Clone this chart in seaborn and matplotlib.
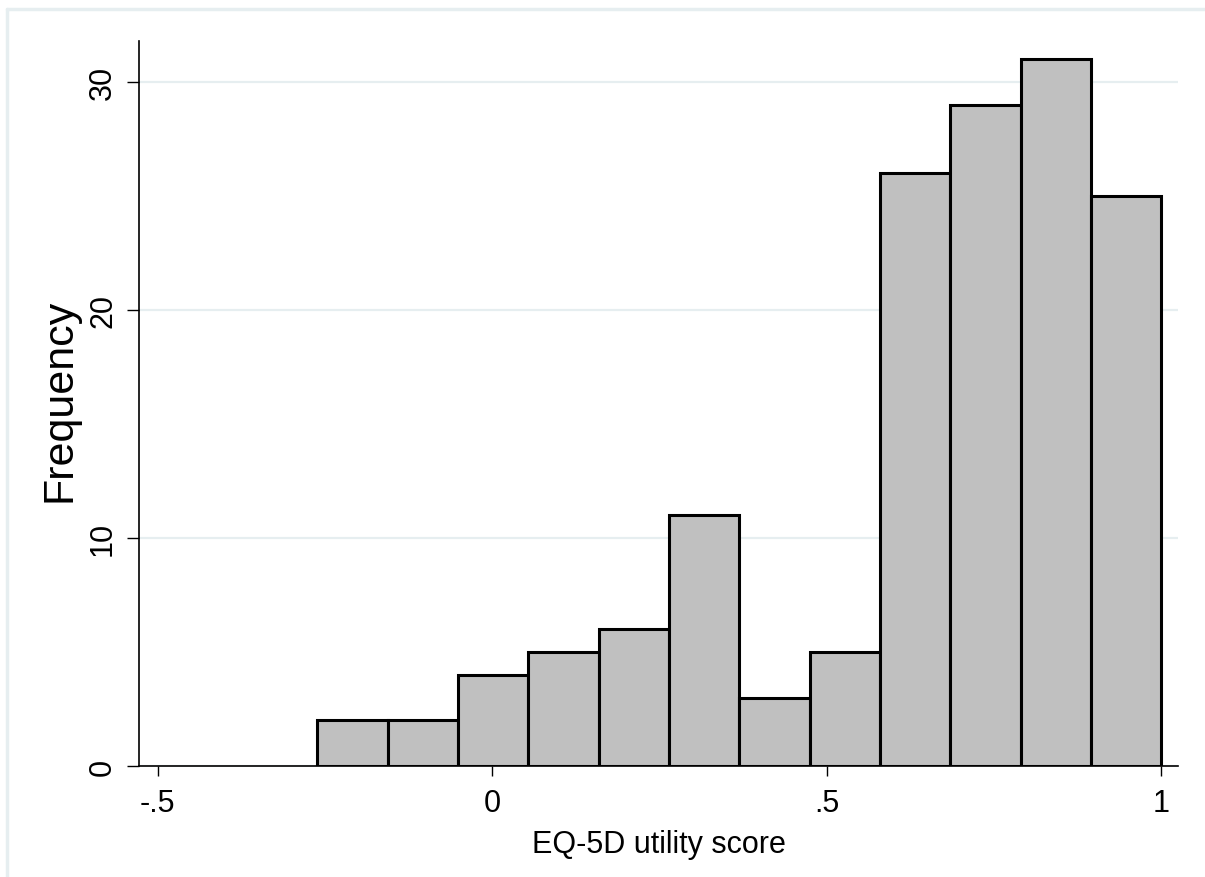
import numpy as np
import pandas as pd
import matplotlib
matplotlib.use("Agg")
import matplotlib.pyplot as plt
from matplotlib.lines import Line2D
import seaborn as sns

# ---- data ----
bin_start = -0.2616
bin_end = 1.0
counts = [2, 2, 4, 5, 6, 11, 3, 5, 26, 29, 31, 25]
x_ticks = [-0.5, 0, 0.5, 1]
x_tick_labels = ["-.5", "0", ".5", "1"]
y_ticks = [0, 10, 20, 30]
y_tick_labels = ["0", "10", "20", "30"]
x_title = "EQ-5D utility score"
y_title = "Frequency"

n_bins = len(counts)
bin_width = (bin_end - bin_start) / n_bins
centers = bin_start + bin_width * (np.arange(n_bins) + 0.5)
df = pd.DataFrame({"score": centers, "n": counts})

sns.set_theme(style="white")
plt.rcParams["font.family"] = ["Liberation Sans", "DejaVu Sans"]

fig = plt.figure(figsize=(12.05, 8.78), dpi=100)
ax = fig.add_axes([0.1154, 0.1264, 0.9776 - 0.1154, 0.9522 - 0.1264])

sns.histplot(data=df, x="score", weights="n", bins=n_bins,
             binrange=(bin_start, bin_end), ax=ax,
             color="#c0c0c0", alpha=1.0, edgecolor="black", linewidth=2.2,
             zorder=3)

ax.set_xlim(-0.528, 1.025)
ax.set_ylim(0, 31.8)
ax.set_xticks(x_ticks)
ax.set_xticklabels(x_tick_labels)
ax.set_yticks(y_ticks)
ax.set_yticklabels(y_tick_labels, rotation=90, va="center")

ax.grid(axis="y", color="#e6eef0", linewidth=1.6, zorder=0)
ax.grid(axis="x", visible=False)
ax.set_axisbelow(True)

for s in ["top", "right"]:
    ax.spines[s].set_visible(False)
for s in ["left", "bottom"]:
    ax.spines[s].set_color("black")
    ax.spines[s].set_linewidth(1.2)

ax.tick_params(axis="x", direction="out", length=7.5, width=1, color="black",
               labelsize=22, pad=8, bottom=True, labelcolor="black")
ax.tick_params(axis="y", direction="out", length=8.6, width=1, color="black",
               labelsize=22, pad=6.5, left=True, labelcolor="black")

ax.set_xlabel(x_title, fontsize=22, color="black", labelpad=8)
ax.set_ylabel(y_title, fontsize=31, color="black")
ax.yaxis.set_label_coords((79 - 139) / 1039, 0.505)

# light outer frame (top and left edges visible in reference)
fig.add_artist(Line2D([7.5 / 1205, 1.0], [1 - 9.5 / 878, 1 - 9.5 / 878],
                      transform=fig.transFigure, color="#e6eef0", linewidth=2.5))
fig.add_artist(Line2D([7.5 / 1205, 7.5 / 1205], [0.0, 1 - 9.5 / 878],
                      transform=fig.transFigure, color="#e6eef0", linewidth=2.5))

fig.savefig("out.png", dpi=100)
